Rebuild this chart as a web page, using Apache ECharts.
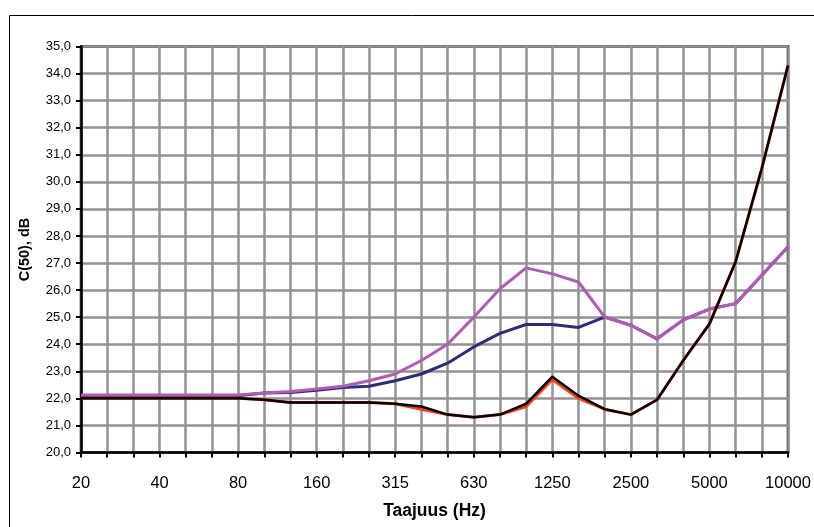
<!DOCTYPE html>
<html>
<head>
<meta charset="utf-8">
<script src="https://cdn.jsdelivr.net/npm/echarts@6/dist/echarts.min.js"></script>
<style>
  html, body { margin: 0; padding: 0; background: #fff; }
  #chart { width: 814px; height: 527px; }
</style>
</head>
<body>
<div id="chart"></div>
<script>
// taajuudet (Hz)
var freqs = ["20", "25", "31.5", "40", "50", "63", "80", "100", "125", "160", "200", "250", "315", "400",
  "500", "630", "800", "1000", "1250", "1600", "2000", "2500", "3150", "4000", "5000", "6300", "8000", "10000"];

// C(50), dB
var purpleVals = [22.12, 22.12, 22.12, 22.12, 22.12, 22.12, 22.12, 22.2, 22.25, 22.35, 22.45, 22.65, 22.9, 23.4,
  24.0, 25.0, 26.05, 26.82, 26.6, 26.3, 25.0, 24.7, 24.2, 24.9, 25.3, 25.5, 26.55, 27.6];
var blueVals = [22.1, 22.1, 22.1, 22.1, 22.1, 22.1, 22.1, 22.2, 22.22, 22.3, 22.4, 22.45, 22.65, 22.9,
  23.3, 23.9, 24.4, 24.73, 24.73, 24.62, 25.0, 24.7, 24.2, 24.9, 25.3, 25.5, 26.55, 27.6];
var redVals = [22.0, 22.0, 22.0, 22.0, 22.0, 22.0, 22.0, 21.95, 21.85, 21.85, 21.85, 21.85, 21.8, 21.6,
  21.4, 21.3, 21.4, 21.7, 22.7, 22.0, 21.6, 21.4, 21.95, 23.4, 24.75, 27.05, 30.5, 34.3];
var blackVals = [22.0, 22.0, 22.0, 22.0, 22.0, 22.0, 22.0, 21.95, 21.85, 21.85, 21.85, 21.85, 21.8, 21.7,
  21.4, 21.3, 21.4, 21.8, 22.8, 22.1, 21.6, 21.4, 21.95, 23.4, 24.75, 27.05, 30.5, 34.3];

var gridColor = "#939396";
var font = "Liberation Sans, Arial, sans-serif";

function lineSeries(name, vals, color, width) {
  return {
    name: name,
    type: "line",
    data: vals,
    symbol: "none",
    lineStyle: { color: color, width: width },
    z: 3
  };
}

var myChart = echarts.init(document.getElementById("chart"));
myChart.setOption({
  animation: false,
  backgroundColor: "#fff",
  textStyle: { fontFamily: font },
  graphic: [
    {
      type: "rect",
      shape: { x: 9.5, y: 15.5, width: 820, height: 530 },
      style: { fill: "none", stroke: "#000", lineWidth: 1 },
      silent: true
    }
  ],
  grid: {
    left: 81,
    right: 26,
    top: 46.5,
    bottom: 74.5,
    show: true,
    borderColor: "#000",
    borderWidth: 2.5,
    backgroundColor: "transparent"
  },
  xAxis: {
    type: "category",
    data: freqs,
    boundaryGap: false,
    name: "Taajuus (Hz)",
    nameLocation: "middle",
    nameGap: 50,
    nameTextStyle: { fontSize: 17.5, fontWeight: "bold", color: "#000", fontFamily: font },
    axisLine: { lineStyle: { color: "#000", width: 2.5 } },
    axisTick: { show: true, interval: 0, length: 5, lineStyle: { color: "#000", width: 2 } },
    axisLabel: { interval: 2, fontSize: 16.5, color: "#000", margin: 22, fontFamily: font },
    splitLine: { show: true, interval: 0, lineStyle: { color: gridColor, width: 2.5 } }
  },
  yAxis: {
    type: "value",
    min: 20,
    max: 35,
    interval: 1,
    name: "C(50), dB",
    nameLocation: "middle",
    nameGap: 49,
    nameTextStyle: { fontSize: 14.5, fontWeight: "bold", color: "#000", fontFamily: font },
    axisLine: { show: true, lineStyle: { color: "#000", width: 2.5 } },
    axisTick: { show: true, length: 5, lineStyle: { color: "#000", width: 2 } },
    axisLabel: {
      fontSize: 13,
      color: "#000",
      margin: 10,
      fontFamily: font,
      formatter: function (v) { return v.toFixed(1).replace(".", ","); }
    },
    splitLine: { show: true, lineStyle: { color: gridColor, width: 2.5 } }
  },
  series: [
    lineSeries("sininen", blueVals, "#2f2c7c", 3),
    lineSeries("violetti", purpleVals, "#b05bb4", 3),
    lineSeries("punainen", redVals, "#ff3a1c", 3),
    lineSeries("musta", blackVals, "#000000", 2.5)
  ]
});
</script>
</body>
</html>
